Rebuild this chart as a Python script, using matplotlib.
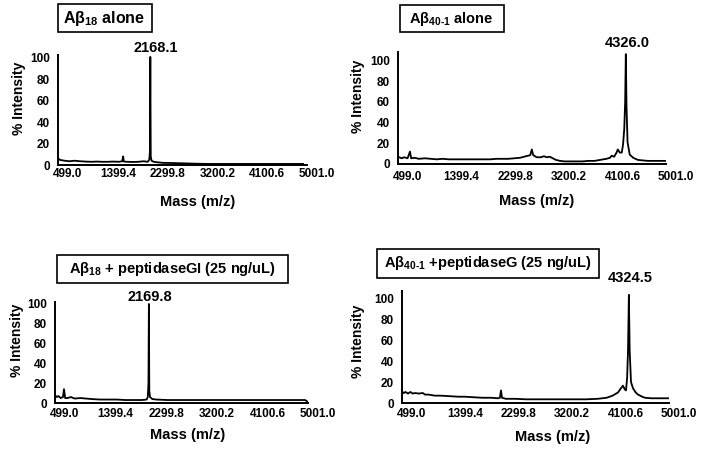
import matplotlib
matplotlib.use("Agg")
import matplotlib.pyplot as plt
from matplotlib.patches import Rectangle
from matplotlib.transforms import ScaledTranslation

plt.rcParams['font.family'] = ['Liberation Sans', 'DejaVu Sans']
plt.rcParams['font.weight'] = 'bold'
plt.rcParams['mathtext.fontset'] = 'custom'
plt.rcParams['mathtext.rm'] = 'Liberation Sans:bold'
plt.rcParams['mathtext.bf'] = 'Liberation Sans:bold'
plt.rcParams['mathtext.it'] = 'Liberation Sans:bold'

# ---------------- data ----------------
xticks = [499.0, 1399.4, 2299.8, 3200.2, 4100.6, 5001.0]
xtick_labels = ["499.0", "1399.4", "2299.8", "3200.2", "4100.6", "5001.0"]
yticks = [0, 20, 40, 60, 80, 100]

titles = [r"Aβ$_{\mathrm{18}}$ alone",
          r"Aβ$_{\mathrm{40\text{-}1}}$ alone",
          r"Aβ$_{\mathrm{18}}$ + peptidaseGI (25 ng/uL)",
          r"Aβ$_{\mathrm{40\text{-}1}}$ +peptidaseG (25 ng/uL)"]
peak_labels = ["2168.1", "4326.0", "2169.8", "4324.5"]
peak_masses = [2168.1, 4326.0, 2169.8, 4324.5]

mass1 = [499, 520, 560, 620, 700, 800, 900, 1000, 1100, 1200, 1300, 1400, 1500, 1600,
         1660, 1676, 1690, 1750, 1850, 1950, 2050, 2120, 2150, 2160, 2168.1, 2176, 2190,
         2230, 2300, 2400, 2600, 2800, 3000, 3200, 3400, 3600, 3800, 4000, 4200, 4400,
         4600, 4800, 4930]
int1 = [7, 5, 4.5, 4, 3.5, 4, 3.5, 3.2, 3, 3.2, 3, 3, 3.2, 3,
        3.5, 8, 3.2, 3, 2.8, 3, 3.5, 3, 5, 12, 101, 8, 4,
        3, 2.5, 2, 1.8, 1.5, 1.2, 1, 1, 1, 1, 1, 1, 1,
        1, 1, 1]

mass2 = [499, 520, 560, 600, 660, 700, 720, 780, 850, 950, 1050, 1150, 1250, 1350, 1450,
         1550, 1650, 1750, 1850, 1950, 2050, 2150, 2250, 2350, 2450, 2550, 2650, 2720,
         2747, 2770, 2830, 2900, 2950, 3000, 3050, 3100, 3150, 3220, 3300, 3400, 3500,
         3600, 3700, 3800, 3900, 4000, 4060, 4090, 4130, 4170, 4191, 4225, 4258, 4280,
         4300, 4315, 4326.0, 4338, 4355, 4392, 4450, 4526, 4600, 4700, 4800, 4900, 5001]
int2 = [6, 6.5, 5.5, 6.5, 5.5, 12, 5.5, 6, 5, 5.5, 5, 4.5, 5, 4.5, 4.5,
        4.5, 4.5, 4.5, 4.5, 4.5, 4.5, 5, 5, 5, 5.5, 6, 7.5, 8.5,
        14, 8.5, 6.5, 6.5, 7.5, 6.5, 7, 5.5, 4, 3, 2.5, 2.5, 2.5,
        2.5, 3, 3, 4, 5, 6, 8, 7, 11, 14, 11, 11, 19,
        34, 60, 106, 55, 21, 9, 6, 4, 3.5, 3, 3, 3, 3]

mass3 = [499, 530, 560, 600, 640, 659, 680, 720, 780, 850, 950, 1050, 1150, 1300, 1450,
         1600, 1750, 1900, 2050, 2130, 2150, 2162, 2169.8, 2177, 2190, 2230, 2300, 2500,
         2800, 3200, 3600, 4000, 4400, 4800, 4950, 5001]
int3 = [8, 6, 7, 5, 6, 14, 5, 5, 6, 4.5, 5, 4.5, 4, 3.5, 3.5,
        3.5, 3, 3, 3, 3.5, 6, 20, 100, 12, 6, 4, 3.5, 3,
        3, 3, 3, 3, 3, 3, 3, 1]

mass4 = [499, 530, 560, 600, 640, 680, 720, 780, 850, 887, 950, 1050, 1150, 1300, 1450,
         1561, 1700, 1850, 2000, 2117, 2150, 2168, 2185, 2250, 2400, 2600, 2800, 3000,
         3200, 3400, 3600, 3800, 3950, 4050, 4140, 4190, 4225, 4255, 4276, 4295, 4310,
         4324.5, 4338, 4360, 4394, 4440, 4478, 4550, 4596, 4700, 4850, 5001]
int4 = [11, 9.5, 10.5, 9, 10.5, 9, 9.5, 9, 9.5, 8, 8, 7, 7, 6.5, 6,
        6, 5.5, 5, 5, 4.5, 5, 12, 5, 4, 4, 3.5, 3.5, 3.5,
        3.5, 3.5, 3.5, 4, 5, 7, 10, 14, 16.5, 13, 12, 24, 50,
        103, 50, 20, 14, 10, 8, 6, 5, 4.5, 4.5, 4.5]

masses = [mass1, mass2, mass3, mass4]
intens = [int1, int2, int3, int4]

# ---------------- layout (pixels) ----------------
W, H = 703, 449
fig = plt.figure(figsize=(W / 100, H / 100), dpi=100)

# left, right, top, y0-pixel, ylim top
axes_px = [(58, 307, 55, 165, 102.8),
           (398, 666, 52, 164, 108.0),
           (55, 308, 302, 403, 102.0),
           (402, 669, 291, 403, 106.7)]
ylab_pos = [(-0.155, 0.61), (-0.15, 0.60), (-0.15, 0.62), (-0.163, 0.55)]
xlab_pos = [(0.56, -0.336), (0.519, -0.327), (0.526, -0.317), (0.566, -0.30)]
xtick_dy = [13, 17, 15, 15]
peak_off = [(5, 7), (1, 9), (1, 5), (1, 13)]
boxes = [(58, 152, 4, 32), (400, 504, 5, 32), (57, 288, 255, 283), (377, 599, 249, 278)]
title_ctr = [(104, 18), (451, 19), (172, 269), (488, 263)]
title_fs = [11.5, 10.5, 10.5, 10.5]

for i in range(4):
    l, r, t, b, ytop = axes_px[i]
    ax = fig.add_axes([l / W, 1 - b / H, (r - l) / W, (b - t) / H])
    ax.plot(masses[i], intens[i], color='black', lw=1.3)
    ax.set_xlim(499.0, 5001.0)
    ax.set_ylim(0, ytop)
    for s in ['top', 'right']:
        ax.spines[s].set_visible(False)
    for s in ['left', 'bottom']:
        ax.spines[s].set_linewidth(1.4)
    ax.set_xticks(xticks)
    ax.set_xticklabels(xtick_labels, fontsize=8.5, fontweight='bold')
    ax.set_yticks(yticks)
    ax.set_yticklabels([str(v) for v in yticks], fontsize=8.5, fontweight='bold')
    ax.tick_params(axis='both', length=0)
    ax.tick_params(axis='y', pad=6)
    ax.tick_params(axis='x', pad=0)
    off = ScaledTranslation(10 / 100, -(xtick_dy[i] - 4) / 100, fig.dpi_scale_trans)
    for lab in ax.get_xticklabels():
        lab.set_transform(lab.get_transform() + off)
        lab.set_verticalalignment('center')
    ax.set_ylabel("% Intensity", fontsize=10, fontweight='bold', va='center')
    ax.yaxis.set_label_coords(*ylab_pos[i])
    ax.set_xlabel("Mass (m/z)", fontsize=10.5, fontweight='bold', va='center')
    ax.xaxis.set_label_coords(*xlab_pos[i])
    ax.annotate(peak_labels[i], xy=(peak_masses[i], ytop), xycoords='data',
                xytext=peak_off[i], textcoords='offset pixels',
                ha='center', va='center', fontsize=10.5, fontweight='bold',
                annotation_clip=False)

    bx0, bx1, by0, by1 = boxes[i]
    fig.add_artist(Rectangle((bx0 / W, 1 - by1 / H), (bx1 - bx0) / W, (by1 - by0) / H,
                             transform=fig.transFigure, fill=False, lw=1.2,
                             edgecolor='black'))
    cx, cy = title_ctr[i]
    fig.text(cx / W, 1 - cy / H, titles[i], ha='center', va='center',
             fontsize=title_fs[i], fontweight='bold')

fig.savefig("out.png", dpi=100)
